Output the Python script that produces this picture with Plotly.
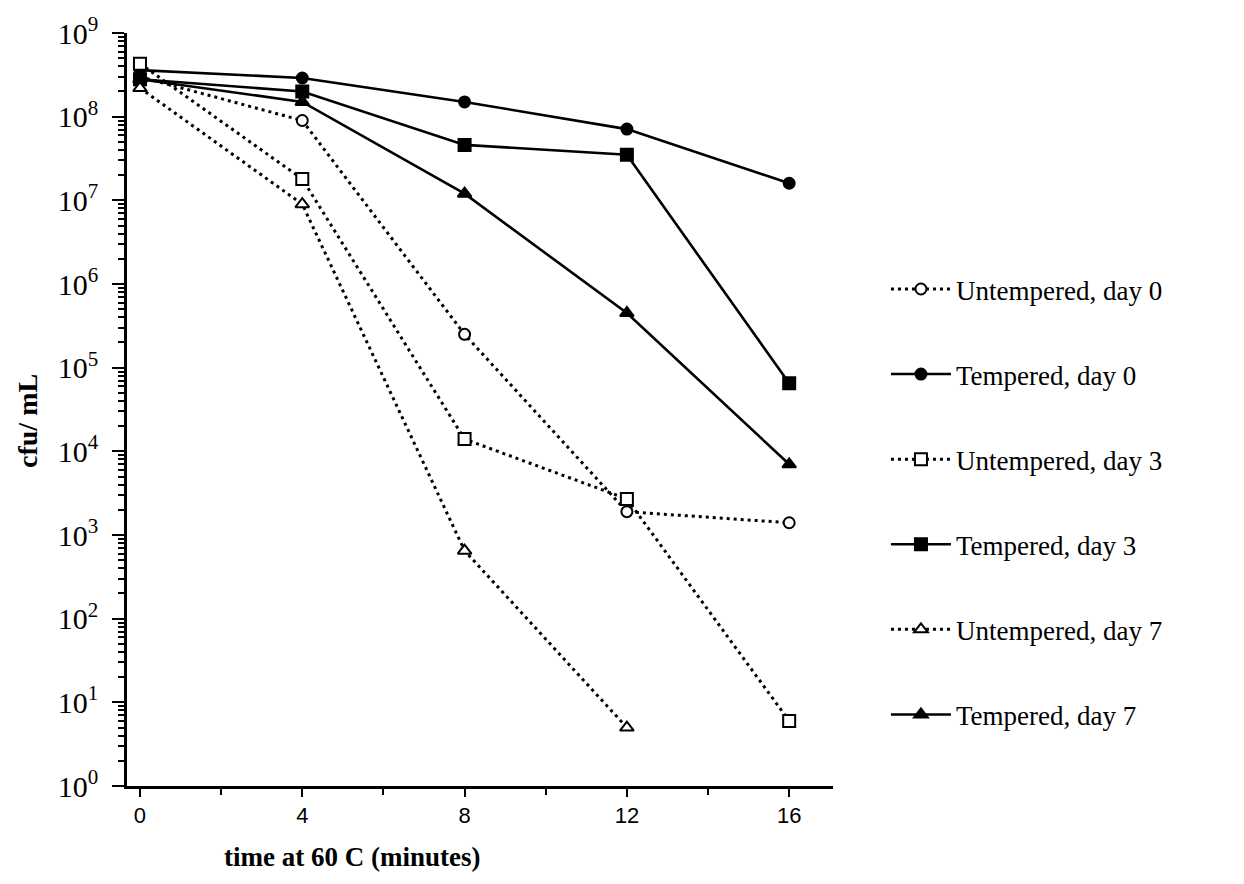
import plotly.graph_objects as go

# ---- data ----
time_full = [0, 4, 8, 12, 16]
time_u7 = [0, 4, 8, 12]

untempered_day0 = [3.0e8, 9.0e7, 2.5e5, 1.9e3, 1.4e3]
tempered_day0 = [3.6e8, 2.9e8, 1.5e8, 7.1e7, 1.6e7]
untempered_day3 = [4.3e8, 1.8e7, 1.4e4, 2.7e3, 6]
tempered_day3 = [2.8e8, 2.0e8, 4.6e7, 3.5e7, 6.5e4]
untempered_day7 = [2.2e8, 9.0e6, 6.5e2, 5]
tempered_day7 = [2.8e8, 1.5e8, 1.2e7, 4.5e5, 7.0e3]

series_names = [
    "Untempered, day 0",
    "Tempered, day 0",
    "Untempered, day 3",
    "Tempered, day 3",
    "Untempered, day 7",
    "Tempered, day 7",
]

x_tick_vals = [0, 4, 8, 12, 16]
x_tick_text = ["0", "4", "8", "12", "16"]
y_exponents = list(range(0, 10))

# ---- styling ----
DOT = "3px,4px"
series = [
    (series_names[0], time_full, untempered_day0, DOT, "circle", "white", 11),
    (series_names[1], time_full, tempered_day0, "solid", "circle", "black", 11),
    (series_names[2], time_full, untempered_day3, DOT, "square", "white", 12),
    (series_names[3], time_full, tempered_day3, "solid", "square", "black", 12),
    (series_names[4], time_u7, untempered_day7, DOT, "triangle-up", "white", 12),
    (series_names[5], time_full, tempered_day7, "solid", "triangle-up", "black", 12),
]

fig = go.Figure()
for i, (name, xs, ys, dash, sym, fill, size) in enumerate(series):
    fig.add_trace(go.Scatter(
        x=xs, y=ys, name=name, mode="lines+markers",
        legendgroup=f"g{i}",
        line=dict(color="black", width=2.6 if dash == "solid" else 3, dash=dash),
        marker=dict(symbol=sym, size=size, color=fill,
                    line=dict(color="black", width=2)),
        cliponaxis=False,
    ))

minor_y = [k * 10 ** d for d in range(0, 9) for k in range(2, 10)]

fig.update_layout(
    width=1244, height=884,
    margin=dict(l=127, r=411, t=31, b=98),
    paper_bgcolor="white", plot_bgcolor="white",
    showlegend=True,
    legend=dict(
        x=1.075, xanchor="left", y=0.692, yanchor="top",
        font=dict(family="Liberation Serif", size=27, color="black"),
        tracegroupgap=47, bgcolor="rgba(0,0,0,0)",
        itemwidth=60,
    ),
    xaxis=dict(
        range=[-0.32, 17.08], showgrid=False, zeroline=False,
        showline=True, linecolor="black", linewidth=2.5,
        ticks="outside", ticklen=8, tickwidth=2, tickcolor="black",
        tickvals=x_tick_vals, ticktext=x_tick_text,
        tickfont=dict(family="Liberation Sans", size=22, color="black"),
        minor=dict(tickvals=[2, 6, 10, 14], ticks="outside", ticklen=6,
                   tickwidth=2, tickcolor="black"),
    ),
    yaxis=dict(
        type="log", range=[0, 9.0], showgrid=False, zeroline=False,
        showline=True, linecolor="black", linewidth=2.5,
        ticks="outside", ticklen=12, tickwidth=2, tickcolor="black",
        ticklabelstandoff=8,
        tickvals=[10 ** e for e in y_exponents],
        ticktext=[f"10<sup>{e}</sup>" for e in y_exponents],
        tickfont=dict(family="Liberation Serif", size=30, color="black"),
        minor=dict(tickvals=minor_y, ticks="outside", ticklen=6,
                   tickwidth=1.5, tickcolor="black"),
    ),
    annotations=[
        dict(text="<b>time at 60 C (minutes)</b>", xref="paper", yref="paper",
             x=0.319, y=-0.094, xanchor="center", yanchor="middle",
             showarrow=False,
             font=dict(family="Liberation Serif", size=27, color="black")),
        dict(text="<b>cfu/ mL</b>", xref="paper", yref="paper",
             x=-0.14, y=0.485, xanchor="center", yanchor="middle",
             textangle=-90, showarrow=False,
             font=dict(family="Liberation Serif", size=28, color="black")),
    ],
)

fig.write_html("out.html")
